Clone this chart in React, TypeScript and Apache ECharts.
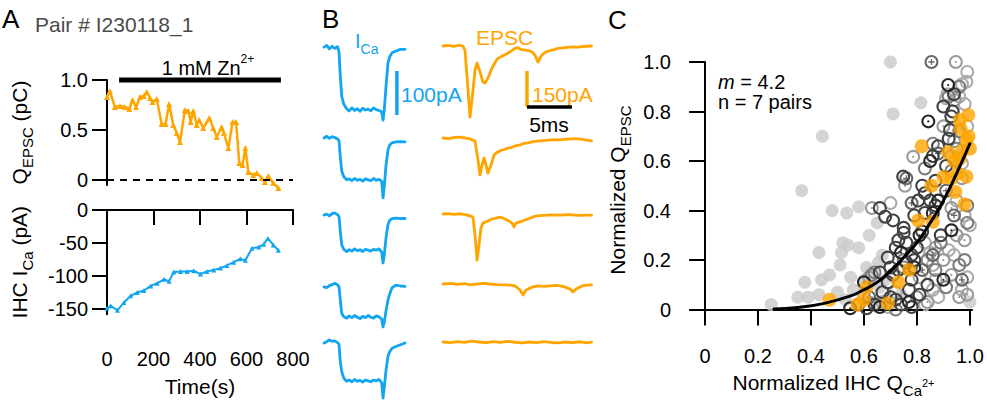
import React, { useEffect, useRef } from "react";
import * as echarts from "echarts";

const FONT = "'Liberation Sans', Arial, Helvetica, sans-serif";
const ORANGE = "#ffa500";
const BLUE = "#12a5f0";

// ---------- Panel A : time course ----------
const qTime = [0, 12, 34, 56, 77, 96, 110, 125, 142, 159, 171, 185, 196, 214, 235, 252, 267, 285, 300, 314, 335, 350, 360, 371, 386, 397, 414, 440, 457, 472, 493, 503, 522, 540, 555, 569, 583, 595, 608, 629, 644, 665, 679, 694, 715, 737];
const qEpsc = [0.83, 0.89, 0.73, 0.74, 0.73, 0.71, 0.8, 0.73, 0.83, 0.84, 0.88, 0.82, 0.78, 0.81, 0.56, 0.56, 0.76, 0.55, 0.47, 0.38, 0.7, 0.69, 0.58, 0.69, 0.55, 0.6, 0.52, 0.62, 0.52, 0.43, 0.53, 0.47, 0.32, 0.58, 0.58, 0.17, 0.15, 0.32, 0.08, 0.05, 0.07, 0.02, -0.02, 0.04, -0.03, -0.08];
const iTime = [0, 16, 45, 73, 102, 130, 159, 188, 216, 245, 267, 287, 316, 345, 373, 402, 430, 459, 488, 516, 545, 573, 595, 624, 653, 674, 692, 715, 737];
const iCa = [-149, -145, -152, -140, -130, -125, -122, -115, -111, -105, -108, -94, -93, -93, -92, -97, -93, -91, -88, -84, -79, -74, -76, -58, -56, -52, -43, -53, -61];
const znStart = 52;
const znEnd = 748;
const qTicks = [0, 0.5, 1.0];
const iTicks = [-150, -100, -50, 0];

// ---------- Panel B : example traces (ms, pA) ----------
const icaTimes = [0, 0.3, 0.6, 0.9, 1.2, 1.5, 1.67, 1.8, 1.97, 2.2, 2.52, 2.8, 3.1, 3.4, 3.7, 4.0, 4.3, 4.6, 4.9, 5.2, 5.5, 5.8, 6.1, 6.41, 6.56, 6.7, 6.9, 7.11, 7.3, 7.56, 8.0, 8.5, 9.0];
const ica1 = [2, 6, -2, 4, -1, 3, -10, -60, -110, -128, -138, -143, -136, -142, -138, -144, -137, -141, -139, -143, -136, -140, -142, -145, -164, -140, -85, -34, -20, -11, -7, -3, -3];
const ica2 = [0, 4, -1, 3, 1, -2, -6, -40, -75, -88, -95, -93, -97, -92, -96, -94, -98, -93, -95, -97, -92, -96, -94, -98, -136, -110, -60, -27, -16, -11, -9, -8, -9];
const ica3 = [0, 2, -2, 3, 5, 1, -4, -35, -68, -78, -83, -79, -82, -77, -81, -79, -83, -78, -80, -82, -78, -80, -77, -84, -109, -90, -50, -22, -12, -8, -7, -8, -8];
const ica4 = [-2, -4, 1, 3, 6, 3, -2, -30, -62, -70, -73, -68, -72, -67, -71, -74, -69, -72, -67, -71, -73, -68, -70, -75, -93, -82, -55, -32, -18, -4, 2, 0, -1];
const ica5 = [0, 3, 7, 4, 5, 1, -3, -40, -65, -80, -87, -84, -88, -83, -87, -85, -89, -84, -86, -88, -84, -86, -83, -90, -125, -100, -60, -30, -20, -12, -8, -4, 0];
const icaTraces = [ica1, ica2, ica3, ica4, ica5];

const epsc1 = [[0, 0], [0.6, 3], [1.2, -2], [1.8, 4], [2.2, 0], [2.44, -17], [2.78, -183], [3.0, -296], [3.22, -225], [3.56, -100], [3.78, -71], [4.11, -108], [4.44, -150], [4.67, -154], [5.0, -133], [5.44, -92], [6.0, -55], [6.4, -45], [6.8, -38], [7.2, -30], [7.6, -20], [8.0, -10], [8.3, -6], [8.7, -15], [9.2, -17], [9.6, -20], [9.9, -25], [10.2, -37], [10.56, -67], [10.9, -42], [11.3, -27], [11.8, -20], [12.3, -15], [12.8, -10], [13.3, -8], [13.8, -6], [14.4, -4], [15, -5], [15.6, -2], [16.5, 0]];
const epsc2 = [[0, 0], [0.6, -3], [1.2, 2], [1.9, 4], [2.5, 0], [3.0, -4], [3.56, -13], [3.89, -92], [4.11, -154], [4.33, -113], [4.56, -83], [4.78, -113], [5.0, -146], [5.33, -113], [5.67, -71], [6.0, -60], [6.4, -52], [6.8, -48], [7.2, -42], [7.6, -40], [8.0, -33], [8.5, -30], [9.0, -22], [9.5, -20], [10, -15], [10.8, -12], [11.5, -10], [12.2, -7], [13, -8], [13.8, -5], [14.6, -3], [15.5, -6], [16.5, -12]];
const epsc3 = [[0, 0], [0.6, 2], [1.2, -2], [1.9, 1], [2.5, -3], [3.0, -8], [3.33, -13], [3.56, -88], [3.78, -192], [4.0, -129], [4.22, -58], [4.44, -38], [5.0, -29], [5.44, -21], [5.9, -17], [6.33, -13], [6.89, -21], [7.33, -29], [7.67, -38], [7.89, -54], [8.11, -38], [8.56, -33], [9.0, -26], [9.44, -21], [10.0, -12], [10.44, -8], [11.2, -6], [12, -4], [13, -5], [14, -3], [15, -6], [16.5, -5]];
const epsc4 = [[0, 0], [0.8, 3], [1.6, -2], [2.4, 2], [3.0, -4], [3.8, 0], [4.6, 3], [5.22, 0], [6.0, -3], [6.89, -4], [7.5, -5], [8.0, -8], [8.56, -25], [8.89, -46], [9.22, -25], [9.89, -13], [10.5, -8], [11.2, -10], [11.89, -8], [12.6, -6], [13.2, -9], [13.56, -13], [14.11, -21], [14.44, -33], [14.78, -21], [15.44, -8], [16.0, -5], [16.5, -4]];
const epsc5 = [[0, 0], [0.8, -3], [1.6, 2], [2.4, -2], [3.2, 4], [4.0, 0], [4.8, -3], [5.6, 2], [6.4, -2], [7.2, 3], [8.0, -1], [8.8, -4], [9.6, 0], [10.4, -3], [11.2, 2], [12.0, -2], [12.8, -4], [13.6, 0], [14.4, -3], [15.2, 1], [16.0, -4], [16.5, -1]];
const epscTraces = [epsc1, epsc2, epsc3, epsc4, epsc5];

// scale bars (ms, pA)
const icaBar = [[8.1, -52], [8.1, -152]];
const epscBar = [[9.33, -104], [9.33, -254]];
const timeBar = [[9.33, -254], [14.33, -254]];

// ---------- Panel C : normalized Q_EPSC vs Q_Ca ----------
const grayFilled = [[0.70, 1.0], [0.815, 0.835], [0.71, 0.79], [0.443, 0.70], [0.365, 0.48], [0.43, 0.23], [0.58, 0.415], [0.535, 0.39], [0.48, 0.40], [0.52, 0.27], [0.54, 0.26], [0.515, 0.23], [0.51, 0.18], [0.47, 0.14], [0.44, 0.12], [0.377, 0.11], [0.35, 0.05], [0.39, 0.05], [0.43, 0.06], [0.50, 0.07], [0.25, 0.02], [0.55, 0.13], [0.61, 0.17], [0.60, 0.12], [0.63, 0.15], [0.655, 0.19], [0.67, 0.22], [1.0, 0.03], [0.53, 0.04], [0.56, 0.08], [0.64, 0.03], [0.66, 0.09], [0.68, 0.12], [0.74, 0.06], [0.58, 0.25], [0.62, 0.30], [0.65, 0.35]];
const lightRing = [[0.99, 0.96], [0.987, 0.92], [0.97, 0.91], [0.91, 0.853], [0.96, 0.86], [0.915, 0.87], [0.83, 0.27], [0.85, 0.23], [0.86, 0.18], [0.87, 0.12], [0.86, 0.08], [0.88, 0.05], [0.83, 0.02], [0.67, 0.03], [0.69, 0.01], [0.65, 0.02], [0.92, 0.24], [0.94, 0.22], [0.97, 0.08], [0.99, 0.13], [1.0, 0.34], [0.98, 0.38], [0.95, 0.44], [0.93, 0.62], [0.97, 0.59], [0.99, 0.74], [0.98, 0.83], [0.72, 0.07], [0.81, 0.13], [0.60, 0.06], [0.70, 0.43]];
const lightDot = [[0.947, 1.0], [0.786, 0.617], [0.755, 0.50], [0.943, 0.846], [0.93, 0.41], [0.95, 0.30], [0.98, 0.28], [0.87, 0.25], [0.90, 0.20], [0.93, 0.14], [0.96, 0.05], [0.99, 0.06], [0.84, 0.03], [0.62, 0.13], [0.97, 0.53], [0.90, 0.74], [0.94, 0.68], [0.63, 0.41]];
const midRing = [[0.63, 0.14], [0.64, 0.15], [0.75, 0.2], [0.75, 0.17], [0.80, 0.05], [0.84, 0.20], [0.87, 0.16], [0.89, 0.27], [0.91, 0.09], [0.96, 0.18], [0.98, 0.20], [0.99, 0.35], [0.93, 0.56], [0.95, 0.65], [0.96, 0.72], [0.92, 0.86], [0.96, 0.90], [0.99, 0.42], [0.83, 0.57], [0.86, 0.67], [0.72, 0.0], [0.58, 0.02]];
const midPlus = [[0.855, 1.0], [0.76, 0.53], [0.88, 0.63], [0.91, 0.48], [0.82, 0.16], [0.86, 0.22], [0.94, 0.38], [0.97, 0.12], [0.78, 0.43], [0.62, 0.05]];
const darkRing = [[0.61, 0.005], [0.64, 0.02], [0.67, 0.07], [0.70, 0.05], [0.72, 0.04], [0.71, 0.14], [0.70, 0.17], [0.72, 0.25], [0.73, 0.28], [0.68, 0.375], [0.71, 0.36], [0.75, 0.33], [0.75, 0.31], [0.76, 0.27], [0.78, 0.01], [0.77, 0.08], [0.78, 0.12], [0.79, 0.2], [0.78, 0.22], [0.82, 0.315], [0.83, 0.39], [0.85, 0.44], [0.87, 0.42], [0.805, 0.44], [0.83, 0.47], [0.748, 0.537], [0.925, 0.725], [0.93, 0.78], [0.935, 0.80], [0.92, 0.69], [0.74, 0.02], [0.82, 0.5], [0.88, 0.66], [0.87, 0.52], [0.79, 0.38], [0.80, 0.25], [0.69, 0.21], [0.69, 0.11], [0.66, 0.15], [0.73, 0.16], [0.76, 0.19], [0.81, 0.06], [0.84, 0.10], [0.89, 0.30], [0.91, 0.58], [0.86, 0.62], [0.9, 0.82], [0.94, 0.87], [0.66, 0.41]];
const darkDot = [[0.548, 0.005], [0.60, 0.11], [0.843, 0.76], [0.918, 0.907], [0.85, 0.60], [0.77, 0.03], [0.81, 0.30], [0.86, 0.39], [0.88, 0.44], [0.66, 0.01], [0.74, 0.23], [0.93, 0.32], [0.90, 0.12], [0.79, 0.17]];
const thisPair = [[0.47, 0.04], [0.575, 0.02], [0.60, 0.04], [0.61, 0.09], [0.69, 0.025], [0.73, 0.11], [0.77, 0.16], [0.805, 0.36], [0.86, 0.355], [0.98, 0.425], [0.945, 0.475], [0.855, 0.50], [0.90, 0.535], [0.93, 0.53], [0.987, 0.537], [0.955, 0.55], [0.94, 0.60], [0.962, 0.61], [0.918, 0.635], [0.818, 0.66], [1.0, 0.65], [0.987, 0.685], [0.965, 0.73], [0.995, 0.70], [0.962, 0.766], [0.994, 0.786], [0.97, 0.64]];
const fitCurve = [[0.26, 0.002], [0.35, 0.008], [0.45, 0.025], [0.55, 0.055], [0.6, 0.08], [0.65, 0.11], [0.7, 0.155], [0.75, 0.21], [0.8, 0.27], [0.85, 0.35], [0.9, 0.44], [0.95, 0.55], [1.0, 0.67]];
const cTicks = [0, 0.2, 0.4, 0.6, 0.8, 1.0];
const exponentM = "4.2";
const nPairs = 7;

// ---------- layout ----------
const icaRowBase = [48, 138, 215, 286, 343];
const epscRowBase = [46, 138, 214, 284, 342];

const OUTER = "M10 0A10 10 0 1 1 10 20A10 10 0 1 1 10 0Z";
const INNER = "M10 3A7 7 0 1 0 10 17A7 7 0 1 0 10 3Z";
const DOT = "M10 8.4A1.6 1.6 0 1 1 10 11.6A1.6 1.6 0 1 1 10 8.4Z";
const PLUS = "M9.1 5.6H10.9V9.1H14.4V10.9H10.9V14.4H9.1V10.9H5.6V9.1H9.1Z";
const SYM_RING = "path://" + OUTER + INNER;
const SYM_DOT = "path://" + OUTER + INNER + DOT;
const SYM_PLUS = "path://" + OUTER + INNER + PLUS;

const fmt1 = (v: number) => (v === 0 ? "0" : v.toFixed(1));

const richName = {
  m: { fontSize: 21, lineHeight: 21, padding: [6, 0, 0, 0], verticalAlign: "top", fontFamily: FONT, color: "#000" },
  s: { fontSize: 15, lineHeight: 15, padding: [17, 0, 0, 0], verticalAlign: "top", fontFamily: FONT, color: "#000" },
  p: { fontSize: 11, lineHeight: 11, padding: [11, 0, 0, 0], verticalAlign: "top", fontFamily: FONT, color: "#000" },
};

function axisStyle(extra: any) {
  return {
    axisLine: { show: true, lineStyle: { color: "#000", width: 2 } },
    axisTick: { show: true, length: 15, lineStyle: { color: "#000", width: 2 } },
    axisLabel: { color: "#000", fontSize: 20, fontFamily: FONT },
    splitLine: { show: false },
    nameMoveOverlap: false,
    ...extra,
  };
}

export default function App() {
  const ref = useRef<HTMLDivElement>(null);
  useEffect(() => {
    if (!ref.current) return;
    const chart = echarts.init(ref.current, null, { renderer: "svg" });
    const gridBase = { containLabel: false, outerBoundsMode: "none" };
    const grids: any[] = [
      { ...gridBase, left: 107, top: 80, width: 186, height: 105 },
      { ...gridBase, left: 107, top: 210, width: 186, height: 104.3 },
      ...icaRowBase.map((b) => ({ ...gridBase, left: 324, top: b - 6.6, width: 81, height: 83.6 })),
      ...epscRowBase.map((b) => ({ ...gridBase, left: 443, top: b - 4.8, width: 148.5, height: 81.6 })),
      { ...gridBase, left: 695, top: 62, width: 277, height: 256.2 },
    ];
    const hidden = { type: "value", show: false, splitLine: { show: false } };
    const xAxes: any[] = [
      { ...hidden, gridIndex: 0, min: 0, max: 800 },
      axisStyle({
        type: "value", gridIndex: 1, min: 0, max: 800, interval: 200, offset: 8,
        axisLabel: { color: "#000", fontSize: 20, fontFamily: FONT, margin: 27 },
        name: "Time(s)", nameLocation: "middle", nameGap: 54,
        nameTextStyle: { fontSize: 21, fontFamily: FONT, color: "#000" },
      }),
      ...icaRowBase.map((_, i) => ({ ...hidden, gridIndex: 2 + i, min: 0, max: 9 })),
      ...epscRowBase.map((_, i) => ({ ...hidden, gridIndex: 7 + i, min: 0, max: 16.5 })),
      axisStyle({
        type: "value", gridIndex: 12, min: -0.038, max: 1.008,
        axisTick: { show: true, length: 16, customValues: cTicks, lineStyle: { color: "#000", width: 2 } },
        axisLabel: { color: "#000", fontSize: 20, fontFamily: FONT, margin: 28, customValues: cTicks, formatter: fmt1 },
        name: "{m|Normalized IHC Q}{s|Ca}{p|2+}", nameLocation: "middle", nameGap: 48,
        nameTextStyle: { fontSize: 21, fontFamily: FONT, color: "#000", rich: richName },
      }),
    ];
    const yAxes: any[] = [
      axisStyle({
        type: "value", gridIndex: 0, min: -0.05, max: 1.0,
        axisTick: { show: true, length: 15, customValues: qTicks, lineStyle: { color: "#000", width: 2 } },
        axisLabel: { color: "#000", fontSize: 20, fontFamily: FONT, margin: 19, customValues: qTicks, formatter: fmt1 },
        name: "{m|Q}{s|EPSC}{m| (pC)}", nameLocation: "middle", nameGap: 83,
        nameTextStyle: { fontSize: 21, fontFamily: FONT, color: "#000", rich: richName },
      }),
      axisStyle({
        type: "value", gridIndex: 1, min: -158, max: 0,
        axisTick: { show: true, length: 15, customValues: iTicks, lineStyle: { color: "#000", width: 2 } },
        axisLabel: { color: "#000", fontSize: 20, fontFamily: FONT, margin: 19, customValues: iTicks },
        name: "{m|IHC I}{s|Ca}{m| (pA)}", nameLocation: "middle", nameGap: 83,
        nameTextStyle: { fontSize: 21, fontFamily: FONT, color: "#000", rich: richName },
      }),
      ...icaRowBase.map((_, i) => ({ ...hidden, gridIndex: 2 + i, min: -175, max: 15 })),
      ...epscRowBase.map((_, i) => ({ ...hidden, gridIndex: 7 + i, min: -320, max: 20 })),
      axisStyle({
        type: "value", gridIndex: 12, min: -0.035, max: 1.0,
        axisTick: { show: true, length: 16, customValues: cTicks, lineStyle: { color: "#000", width: 2 } },
        axisLabel: { color: "#000", fontSize: 20, fontFamily: FONT, margin: 24, customValues: cTicks, formatter: fmt1 },
        name: "{m|Normalized Q}{s|EPSC}", nameLocation: "middle", nameGap: 73,
        nameTextStyle: { fontSize: 21, fontFamily: FONT, color: "#000", rich: richName },
      }),
    ];

    const zeroLine = (extra: any = {}) => ({
      silent: true, symbol: "none", label: { show: false },
      lineStyle: { color: "#000", type: [7, 6], width: 1.8 },
      data: [{ yAxis: 0 }], ...extra,
    });

    const line = (xi: number, data: any, color: string, width: number, extra: any = {}) => ({
      type: "line", xAxisIndex: xi, yAxisIndex: xi, data, showSymbol: false, symbol: "none",
      clip: false, silent: true, lineStyle: { color, width, join: "round", cap: "round" }, ...extra,
    });

    const ringSeries = (data: number[][], symbol: string, color: string, z: number) => ({
      type: "scatter", xAxisIndex: 12, yAxisIndex: 12, data, symbol, symbolSize: 14,
      itemStyle: { color, opacity: 1 }, z, silent: true,
    });

    const series: any[] = [
      line(0, qTime.map((t, i) => [t, qEpsc[i]]), ORANGE, 2.5, {
        showSymbol: true, symbol: "triangle", symbolSize: 6, itemStyle: { color: ORANGE },
        markLine: zeroLine(),
      }),
      line(0, [[znStart, 1.0], [znEnd, 1.0]], "#000", 5, { lineStyle: { color: "#000", width: 5, cap: "butt" } }),
      line(1, iTime.map((t, i) => [t, iCa[i]]), BLUE, 2, {
        showSymbol: true, symbol: "triangle", symbolSize: 5, itemStyle: { color: BLUE },
        markLine: zeroLine(),
      }),
      ...icaTraces.map((tr, i) => line(2 + i, icaTimes.map((t, k) => [t, tr[k]]), BLUE, 2.8)),
      ...epscTraces.map((tr, i) => line(7 + i, tr, ORANGE, 2.8)),
      line(2, icaBar, BLUE, 3.5, { lineStyle: { color: BLUE, width: 3.5, cap: "butt" } }),
      line(7, epscBar, ORANGE, 3.5, { lineStyle: { color: ORANGE, width: 3.5, cap: "butt" } }),
      line(7, timeBar, "#000", 3.5, { lineStyle: { color: "#000", width: 3.5, cap: "butt" } }),
      {
        type: "scatter", xAxisIndex: 12, yAxisIndex: 12, data: grayFilled, symbol: "circle", symbolSize: 13,
        itemStyle: { color: "#c9c9c9" }, z: 2, silent: true, markLine: zeroLine(),
      },
      ringSeries(lightRing, SYM_RING, "#acacac", 3),
      ringSeries(lightDot, SYM_DOT, "#9a9a9a", 3),
      ringSeries(midRing, SYM_RING, "#7d7d7d", 4),
      ringSeries(midPlus, SYM_PLUS, "#666666", 4),
      ringSeries(darkRing, SYM_RING, "#404040", 5),
      ringSeries(darkDot, SYM_DOT, "#262626", 5),
      {
        type: "scatter", xAxisIndex: 12, yAxisIndex: 12, data: thisPair, symbol: "circle", symbolSize: 14,
        itemStyle: { color: ORANGE }, z: 6, silent: true,
      },
      { ...line(12, fitCurve, "#000", 3, { smooth: true, z: 7 }) },
    ];

    const txt = (x: number, y: number, text: string, extra: any = {}) => ({
      type: "text", x, y, silent: true,
      style: { text, fontSize: 20, fontFamily: FONT, fill: "#000", verticalAlign: "middle", align: "left", ...extra },
    });
    const richTxt = {
      m: { fontSize: 20, lineHeight: 20, padding: [6, 0, 0, 0], verticalAlign: "top", fontFamily: FONT },
      s: { fontSize: 14, lineHeight: 14, padding: [17, 0, 0, 0], verticalAlign: "top", fontFamily: FONT },
      u: { fontSize: 12, lineHeight: 12, padding: [1, 0, 0, 0], verticalAlign: "top", fontFamily: FONT },
      i: { fontSize: 20, lineHeight: 20, padding: [6, 0, 0, 0], verticalAlign: "top", fontFamily: FONT, fontStyle: "italic" },
    };

    const graphic: any[] = [
      txt(2, 19, "A", { fontSize: 26 }),
      txt(35, 24, "Pair # I230118_1", { fontSize: 21, fill: "#4a4a4a" }),
      txt(322, 19, "B", { fontSize: 26 }),
      txt(608, 20, "C", { fontSize: 26 }),
      txt(208, 62, "{m|1 mM Zn}{u|2+}", { align: "center", rich: richTxt }),
      txt(355, 35, "{m|I}{s|Ca}", { fill: BLUE, rich: richTxt }),
      txt(476, 37, "EPSC", { fill: ORANGE, fontSize: 21 }),
      txt(401, 94, "100pA", { fill: BLUE, fontSize: 21 }),
      txt(532, 94, "150pA", { fill: ORANGE, fontSize: 21 }),
      txt(549, 124, "5ms", { align: "center", fontSize: 21 }),
      txt(718, 76, "{i|m}{m| = " + exponentM + "}", { rich: richTxt }),
      txt(718, 102, "n = " + nPairs + " pairs"),
    ];

    chart.setOption({
      animation: false,
      backgroundColor: "#fff",
      textStyle: { fontFamily: FONT },
      grid: grids,
      xAxis: xAxes,
      yAxis: yAxes,
      series,
      graphic,
    });
    return () => chart.dispose();
  }, []);
  return <div ref={ref} style={{ position: "absolute", left: 0, top: 0, width: 987, height: 404 }} />;
}
